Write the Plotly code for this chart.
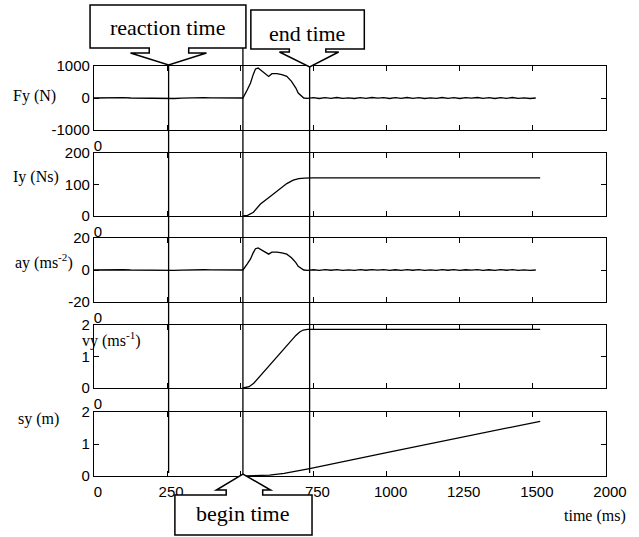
import plotly.graph_objects as go

# ---------------- data ----------------
event_names = ["reaction time", "begin time", "end time"]
event_times = [255, 509, 737]          # ms

x_tickvals = [0, 250, 500, 750, 1000, 1250, 1500, 1750]
x_ticktext = ["0", "250", "500", "750", "1000", "1250", "1500", "2000"]

fy_t = [0, 25, 50, 75, 100, 125, 150, 175, 200, 225, 250, 275, 300, 325, 350, 375, 400, 425, 450, 475, 500,
        509, 524, 535, 544, 552, 561, 571, 586, 597, 608, 625, 642, 659, 675, 690, 698, 709, 717,
        730, 750, 770, 790, 810, 830, 850, 870, 890, 910, 930, 950, 970, 990, 1010, 1030, 1050, 1070, 1090, 1110,
        1130, 1150, 1170, 1190, 1210, 1230, 1250, 1270, 1290, 1310, 1330, 1350, 1370, 1390, 1410, 1430, 1450,
        1470, 1490, 1510, 1525]
fy_v = [0, 5, -5, 0, 10, 0, -5, 5, 0, -10, -20, -15, -5, 5, 0, 10, 5, 0, 5, -5, 0,
        0, 260, 470, 730, 906, 937, 862, 728, 675, 760, 760, 728, 675, 519, 312, 156, 72, 0,
        -12, 10, -15, 12, -10, 15, -12, 6, -15, 12, -10, 15, -6, 12, -15, 10, -12, 15, -10, 12,
        -15, 6, -12, 15, -10, 12, -15, 10, -6, 15, -12, 10, -15, 12, -10, 15,
        -12, 6, -15, 0]

iy_t = [509, 525, 545, 569, 600, 625, 659, 681, 700, 720, 750, 1525]
iy_v = [0, 2, 12, 38, 60, 78, 103, 114, 119, 120.5, 121, 121]

ay_t = fy_t
ay_v = [0, 0.1, -0.1, 0, 0.15, 0, -0.1, 0.1, 0, -0.15, -0.3, -0.25, -0.1, 0.1, 0, 0.15, 0.1, 0, 0.1, -0.1, 0,
        0, 3.8, 6.9, 10.7, 13.3, 13.8, 12.7, 10.7, 9.9, 11.2, 11.2, 10.7, 9.9, 7.6, 4.6, 2.3, 1.1, 0,
        -0.2, 0.15, -0.25, 0.2, -0.15, 0.25, -0.2, 0.1, -0.25, 0.2, -0.15, 0.25, -0.1, 0.2, -0.25, 0.15, -0.2, 0.25, -0.15, 0.2,
        -0.25, 0.1, -0.2, 0.25, -0.15, 0.2, -0.25, 0.15, -0.1, 0.25, -0.2, 0.15, -0.25, 0.2, -0.15, 0.25,
        -0.2, 0.1, -0.25, 0]

vy_t = [509, 530, 546, 560, 580, 600, 625, 650, 670, 690, 703, 715, 730, 1525]
vy_v = [0, 0.04, 0.15, 0.3, 0.52, 0.72, 1.0, 1.26, 1.47, 1.67, 1.78, 1.84, 1.86, 1.86]

sy_t = [509, 550, 600, 650, 700, 737, 1000, 1250, 1525]
sy_v = [0, 0.003, 0.03, 0.08, 0.16, 0.23, 0.73, 1.2, 1.71]

panel_labels = ["Fy (N)", "Iy (Ns)", "ay (ms<sup>-2</sup>)", "vy (ms<sup>-1</sup>)", "sy (m)"]
y_ranges = [[-1000, 1000], [0, 200], [-20, 20], [0, 2], [0, 2]]
y_tickvals = [[-1000, 0, 1000], [0, 100, 200], [-20, 0, 20], [0, 1, 2], [0, 1, 2]]
y_ticktext = [["-1000", "0", "1000"], ["0", "100", "200"], ["-20", "0", "20"], ["0", "1", "2"], ["0", "1", "2"]]

series = [(fy_t, fy_v), (iy_t, iy_v), (ay_t, ay_v), (vy_t, vy_v), (sy_t, sy_v)]

# ---------------- layout geometry (pixels) ----------------
W_FIG, H_FIG = 639, 537
L, R_EDGE, T, B = 94, 613, 66, 476
PW, PH = R_EDGE - L, B - T
panel_px = [(66, 130), (153, 216), (238, 302), (325, 388), (412, 476)]
XMAX = 1750


def px2x(px):
    return (px - L) / PW


def px2y(py):
    return (B - py) / PH


def t2x(t):
    return t / XMAX


SANS = "Liberation Sans, Arial, sans-serif"
SERIF = "Liberation Serif, Times New Roman, serif"

fig = go.Figure()
layout = dict(
    width=W_FIG, height=H_FIG,
    margin=dict(l=L, r=W_FIG - R_EDGE, t=T, b=H_FIG - B, pad=0),
    paper_bgcolor="white", plot_bgcolor="white",
    showlegend=False,
    font=dict(family=SANS, size=15, color="black"),
)

for i, ((tt, vv), yr) in enumerate(zip(series, y_ranges)):
    n = i + 1
    xa = "x" if n == 1 else f"x{n}"
    ya = "y" if n == 1 else f"y{n}"
    fig.add_trace(go.Scatter(x=tt, y=vv, mode="lines", xaxis=xa, yaxis=ya,
                             line=dict(color="black", width=1.3), hoverinfo="skip"))
    top, bot = panel_px[i]
    ticktext = x_ticktext if n == 5 else ["0"] + [" "] * (len(x_tickvals) - 1)
    layout[f"xaxis{'' if n == 1 else n}"] = dict(
        domain=[0, 1], anchor=ya, range=[0, XMAX],
        tickvals=x_tickvals, ticktext=ticktext,
        ticks="inside", ticklen=5, tickwidth=1.3, tickcolor="black",
        showline=True, linecolor="black", linewidth=1.3, mirror="ticks",
        showgrid=False, zeroline=False, ticklabelstandoff=2, ticklabelshift=4,
        tickfont=dict(family=SANS, size=15, color="black"),
    )
    layout[f"yaxis{'' if n == 1 else n}"] = dict(
        domain=[px2y(bot), px2y(top)], anchor=xa, range=yr,
        tickvals=y_tickvals[i], ticktext=y_ticktext[i],
        ticks="inside", ticklen=5, tickwidth=1.3, tickcolor="black",
        showline=True, linecolor="black", linewidth=1.3, mirror="ticks",
        showgrid=False, zeroline=False,
        tickfont=dict(family=SANS, size=15, color="black"),
    )

fig.update_layout(**layout)

# vertical event lines
line_tops = {"reaction time": 65, "begin time": 48, "end time": 67}
line_bots = {"reaction time": 473, "begin time": 474, "end time": 473}
shapes = []
for name, t in zip(event_names, event_times):
    shapes.append(dict(type="line", xref="paper", yref="paper",
                       x0=t2x(t), x1=t2x(t), y0=px2y(line_tops[name]), y1=px2y(line_bots[name]),
                       line=dict(color="black", width=1.3), layer="above"))


def callout_path(pts):
    return "M " + " L ".join(f"{px2x(x):.5f},{px2y(y):.5f}" for x, y in pts) + " Z"


def tip_px(t):
    return L + t2x(t) * PW


rx = tip_px(event_times[0])
reaction_pts = [(90, 5), (248, 5), (248, 48), (190, 48), (190, 53), (208, 53), (rx, 65),
                (131, 53), (150, 53), (150, 48), (90, 48)]
ex = tip_px(event_times[2])
end_pts = [(253, 10), (368, 10), (368, 49), (329, 49), (329, 52), (342, 52), (ex, 67),
           (282, 52), (292, 52), (292, 49), (253, 49)]
bx = tip_px(event_times[1])
begin_pts = [(176, 535), (315, 535), (315, 495), (265, 495), (265, 490), (273, 490), (bx, 474),
             (218, 490), (228, 490), (228, 495), (176, 495)]
for pts in (reaction_pts, end_pts, begin_pts):
    shapes.append(dict(type="path", xref="paper", yref="paper", path=callout_path(pts),
                       fillcolor="white", line=dict(color="black", width=1.5), layer="above"))

fig.update_layout(shapes=shapes)

annotations = []
for text, cx, cy in [("reaction time", 169, 28), ("end time", 310, 34), ("begin time", 245, 513)]:
    annotations.append(dict(text=text, x=px2x(cx), y=px2y(cy), xref="paper", yref="paper",
                            xanchor="center", yanchor="middle", showarrow=False,
                            font=dict(family=SERIF, size=22, color="black")))

label_pos = [(10, 96), (10, 177), (12, 261), (80, 340), (15, 419)]
for lab, (lx, ly) in zip(panel_labels, label_pos):
    annotations.append(dict(text=lab, x=px2x(lx), y=px2y(ly), xref="paper", yref="paper",
                            xanchor="left", yanchor="middle", showarrow=False,
                            font=dict(family=SERIF, size=16, color="black")))

annotations.append(dict(text="time (ms)", x=px2x(635), y=px2y(516), xref="paper", yref="paper",
                        xanchor="right", yanchor="middle", showarrow=False,
                        font=dict(family=SERIF, size=16, color="black")))
fig.update_layout(annotations=annotations)

fig.write_html("out.html", config={"displayModeBar": False},
               post_script="document.body.style.margin='0';")
